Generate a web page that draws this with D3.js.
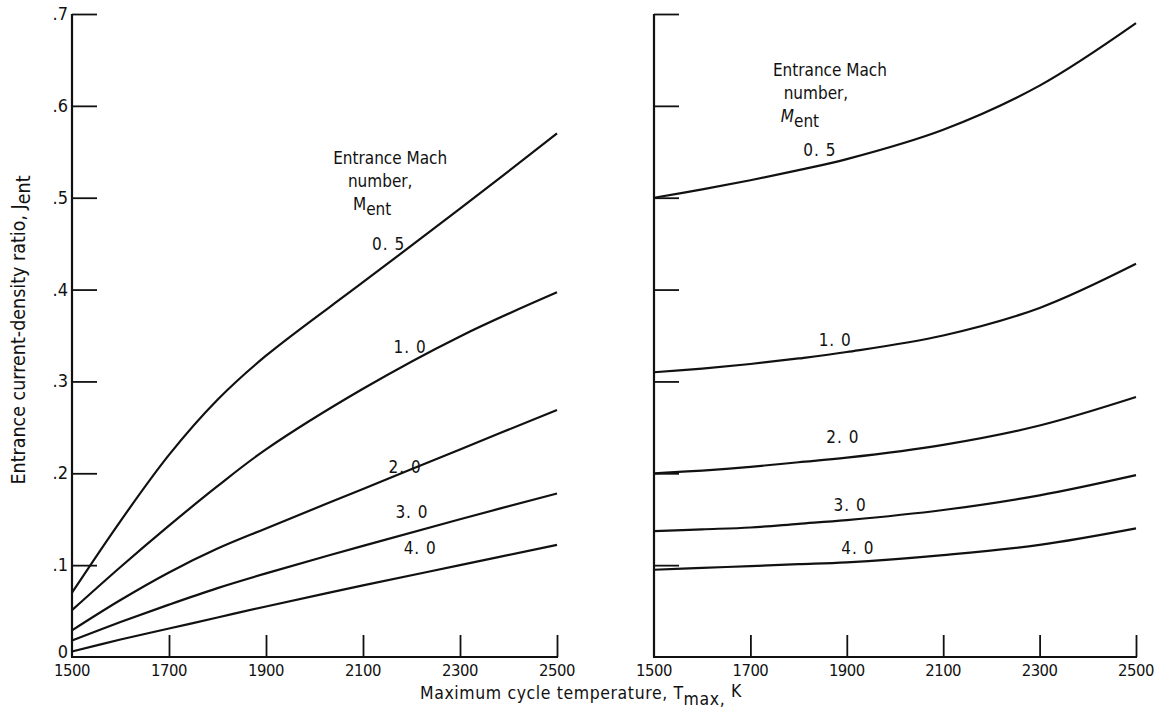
<!DOCTYPE html>
<html>
<head>
<meta charset="utf-8">
<script src="https://cdn.jsdelivr.net/npm/d3@7"></script>
<style>
  html, body { margin: 0; padding: 0; background: #fff; }
  svg { display: block; }
  text { font-family: "DejaVu Sans Condensed", "DejaVu Sans", sans-serif; font-stretch: condensed; fill: #111; }
</style>
</head>
<body>
<svg id="chart" width="1161" height="712"></svg>
<script>
// Maximum cycle temperature, K
const temps = [1500, 1600, 1700, 1800, 1900, 2100, 2300, 2500];
const xTicks = [1500, 1700, 1900, 2100, 2300, 2500];
const yTicks = [0, 0.1, 0.2, 0.3, 0.4, 0.5, 0.6, 0.7];
const yTickLabels = ["0", ".1", ".2", ".3", ".4", ".5", ".6", ".7"];
const machNumbers = ["0.5", "1.0", "2.0", "3.0", "4.0"];

// Left panel: entrance current-density ratio for each entrance Mach number
const leftM05 = [0.070, 0.148, 0.220, 0.280, 0.328, 0.408, 0.488, 0.570];
const leftM10 = [0.051, 0.098, 0.143, 0.186, 0.226, 0.292, 0.349, 0.397];
const leftM20 = [0.029, 0.062, 0.092, 0.118, 0.140, 0.183, 0.226, 0.269];
const leftM30 = [0.018, 0.038, 0.057, 0.075, 0.091, 0.121, 0.150, 0.178];
const leftM40 = [0.006, 0.019, 0.031, 0.043, 0.055, 0.078, 0.100, 0.122];

// Right panel
const rightM05 = [0.500, 0.509, 0.519, 0.530, 0.542, 0.574, 0.622, 0.690];
const rightM10 = [0.310, 0.314, 0.319, 0.325, 0.332, 0.350, 0.380, 0.428];
const rightM20 = [0.200, 0.203, 0.207, 0.212, 0.217, 0.231, 0.252, 0.283];
const rightM30 = [0.137, 0.139, 0.141, 0.145, 0.149, 0.160, 0.176, 0.198];
const rightM40 = [0.095, 0.097, 0.099, 0.101, 0.103, 0.111, 0.122, 0.140];

// Curve label anchors (temperature, ratio)
const leftLabelT = [2153, 2197, 2187, 2201, 2218];
const leftLabelV = [0.450, 0.337, 0.207, 0.158, 0.119];
const rightLabelT = [1844, 1876, 1892, 1907, 1923];
const rightLabelV = [0.552, 0.345, 0.239, 0.165, 0.119];

const svg = d3.select("#chart");
const yScale = d3.scaleLinear().domain([0, 0.7]).range([657, 14]);

const panels = [
  { range: [72, 557], series: [leftM05, leftM10, leftM20, leftM30, leftM40],
    labT: leftLabelT, labV: leftLabelV, yLabels: true,
    keyT: 2156, keyV: 0.537, numDx: -10, mDx: -18, italicM: false },
  { range: [654, 1136], series: [rightM05, rightM10, rightM20, rightM30, rightM40],
    labT: rightLabelT, labV: rightLabelV, yLabels: false,
    keyT: 1865, keyV: 0.632, numDx: -14, mDx: -30, italicM: true }
];

panels.forEach(p => {
  const x = d3.scaleLinear().domain([1500, 2500]).range(p.range);
  const g = svg.append("g");

  // Axis frame: left spine and bottom spine
  g.append("line").attr("x1", x(1500)).attr("x2", x(1500))
    .attr("y1", yScale(0.7)).attr("y2", yScale(0))
    .attr("stroke", "#111").attr("stroke-width", 2.2);
  g.append("line").attr("x1", x(1500) - 1).attr("x2", x(2500) + 1)
    .attr("y1", yScale(0)).attr("y2", yScale(0))
    .attr("stroke", "#111").attr("stroke-width", 2);

  // Inward y ticks
  const yAxis = d3.axisRight(yScale).tickValues(yTicks.slice(1)).tickSize(25).tickFormat("");
  g.append("g").attr("transform", `translate(${x(1500)},0)`).call(yAxis)
    .call(s => s.select(".domain").remove())
    .call(s => s.selectAll(".tick line").attr("stroke", "#111").attr("stroke-width", 1.8));

  // Upward x ticks
  const xAxis = d3.axisTop(x).tickValues(xTicks.slice(1)).tickSize(22).tickFormat("");
  g.append("g").attr("transform", `translate(0,${yScale(0)})`).call(xAxis)
    .call(s => s.select(".domain").remove())
    .call(s => s.selectAll(".tick line").attr("stroke", "#111").attr("stroke-width", 1.8));

  // x tick labels
  g.selectAll(".xl").data(xTicks).enter().append("text")
    .attr("x", d => x(d)).attr("y", 676)
    .attr("text-anchor", "middle").attr("font-size", 16.5)
    .attr("letter-spacing", -0.5)
    .text(d => d);

  // y tick labels (left panel only)
  if (p.yLabels) {
    g.selectAll(".yl").data(yTicks).enter().append("text")
      .attr("x", x(1500) - 4).attr("y", d => d === 0 ? yScale(d) + 1 : yScale(d) + 6)
      .attr("text-anchor", "end").attr("font-size", 18)
      .text((d, i) => yTickLabels[i]);
  }

  // Curves
  const line = d3.line().x((d, i) => x(temps[i])).y(d => yScale(d))
    .curve(d3.curveCatmullRom.alpha(0.5));
  p.series.forEach(s => {
    g.append("path").datum(s).attr("d", line)
      .attr("fill", "none").attr("stroke", "#111").attr("stroke-width", 2.2);
  });

  // Curve labels
  machNumbers.forEach((m, i) => {
    g.append("text").attr("x", x(p.labT[i])).attr("y", yScale(p.labV[i]) + 6)
      .attr("text-anchor", "middle").attr("font-size", 17).attr("letter-spacing", 1)
      .text(m.replace(".", ". "));
  });

  // Key title
  const kx = x(p.keyT), ky = yScale(p.keyV);
  g.append("text").attr("x", kx).attr("y", ky).attr("text-anchor", "middle")
    .attr("font-size", 17).text("Entrance Mach");
  g.append("text").attr("x", kx + p.numDx).attr("y", ky + 23).attr("text-anchor", "middle")
    .attr("font-size", 17).text("number,");
  const mt = g.append("text").attr("x", kx + p.mDx).attr("y", ky + 46).attr("text-anchor", "middle")
    .attr("font-size", 17);
  mt.append("tspan").attr("font-style", p.italicM ? "italic" : "normal").text("M");
  mt.append("tspan").attr("dy", 5).text("ent");
});

// Axis titles
const yt = svg.append("text").attr("transform", "translate(25,330) rotate(-90)")
  .attr("text-anchor", "middle").attr("font-size", 19.5);
yt.append("tspan").text("Entrance current-density ratio,  J");
yt.append("tspan").attr("dy", 5).text("ent");

const xt = svg.append("text").attr("x", 420).attr("y", 699).attr("font-size", 17.5)
  .attr("letter-spacing", 0.6);
xt.append("tspan").text("Maximum cycle temperature, T");
xt.append("tspan").attr("dy", 6).text("max,");
xt.append("tspan").attr("dy", -8).text("  K");
</script>
</body>
</html>
